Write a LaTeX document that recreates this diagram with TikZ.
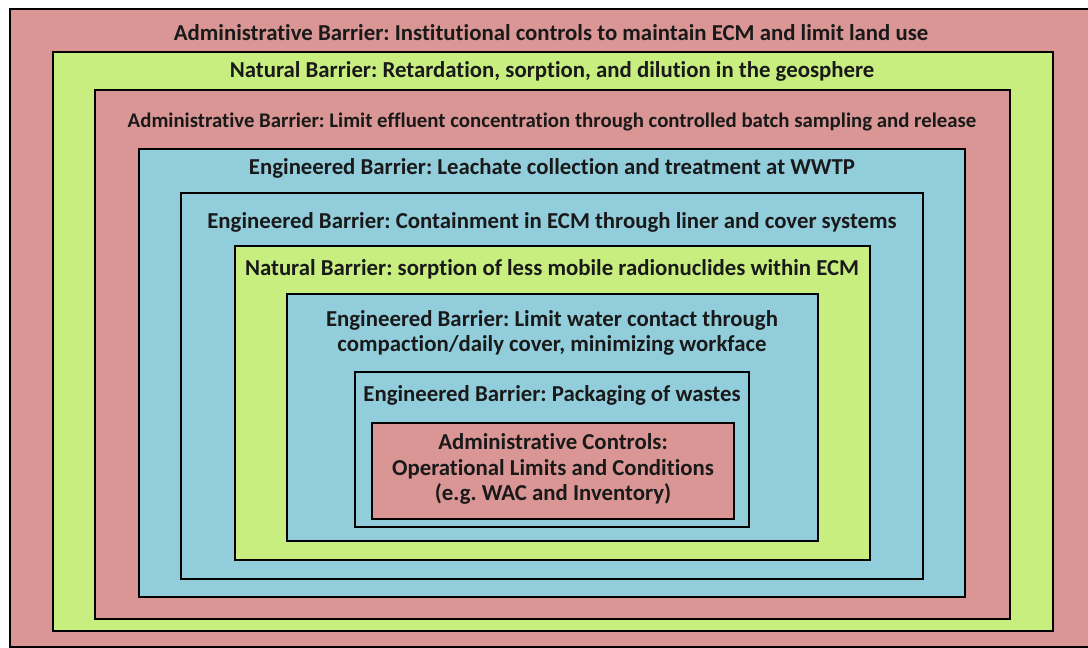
\documentclass[tikz,border=0pt]{standalone}
\usepackage{fontspec}
\setmainfont{Carlito}[RawFeature={-liga}]
\frenchspacing
\definecolor{barred}{HTML}{D99694}
\definecolor{bargreen}{HTML}{C9EE80}
\definecolor{barblue}{HTML}{92CDDC}
\begin{document}
\begin{tikzpicture}[x=1pt,y=-1pt,
  layer/.style={draw=black,line width=2.8pt,inner sep=0pt},
  redbox/.style={layer,fill=barred},
  greenbox/.style={layer,fill=bargreen},
  bluebox/.style={layer,fill=barblue},
  label/.style={font=\bfseries\fontsize{22.8}{25.5}\selectfont,text=black!90,align=center,inner sep=0pt}]
\useasboundingbox (0,0) rectangle (1088,648);
\clip (0,0) rectangle (1088,648);
\fill[white] (0,0) rectangle (1088,648);
\node[redbox,minimum width=1082pt,minimum height=638pt] (b1) at (551,328) {};
\node[greenbox,minimum width=1000pt,minimum height=579pt] (b2) at (553,341.5) {};
\node[redbox,minimum width=915pt,minimum height=529pt] (b3) at (552.5,354.5) {};
\node[bluebox,minimum width=826pt,minimum height=448pt] (b4) at (552,373) {};
\node[bluebox,minimum width=742pt,minimum height=386pt] (b5) at (552,386) {};
\node[greenbox,minimum width=635pt,minimum height=314pt] (b6) at (552.5,403) {};
\node[bluebox,minimum width=531pt,minimum height=247pt] (b7) at (552.5,417.5) {};
\node[bluebox,minimum width=394pt,minimum height=155pt] (b8) at (552,449.5) {};
\node[redbox,minimum width=362pt,minimum height=96pt] (b9) at (553,471) {};
\node[label] (t1) at (551,33) {Administrative Barrier: Institutional controls to maintain ECM and limit land use};
\node[label] (t2) at (552,71) {Natural Barrier: Retardation, sorption, and dilution in the geosphere};
\node[label,font=\bfseries\fontsize{20.8}{24}\selectfont] (t3) at (552,122) {Administrative Barrier: Limit effluent concentration through controlled batch sampling and release};
\node[label] (t4) at (552,168) {Engineered Barrier: Leachate collection and treatment at WWTP};
\node[label] (t5) at (552,222) {Engineered Barrier: Containment in ECM through liner and cover systems};
\node[label] (t6) at (552,269) {Natural Barrier: sorption of less mobile radionuclides within ECM};
\node[label] (t7) at (552,333) {Engineered Barrier: Limit water contact through\\compaction/daily cover, minimizing workface};
\node[label] (t8) at (552,395) {Engineered Barrier: Packaging of wastes};
\node[label] (t9) at (553,469) {Administrative Controls:\\Operational Limits and Conditions\\(e.g. WAC and Inventory)};
\end{tikzpicture}
\end{document}
